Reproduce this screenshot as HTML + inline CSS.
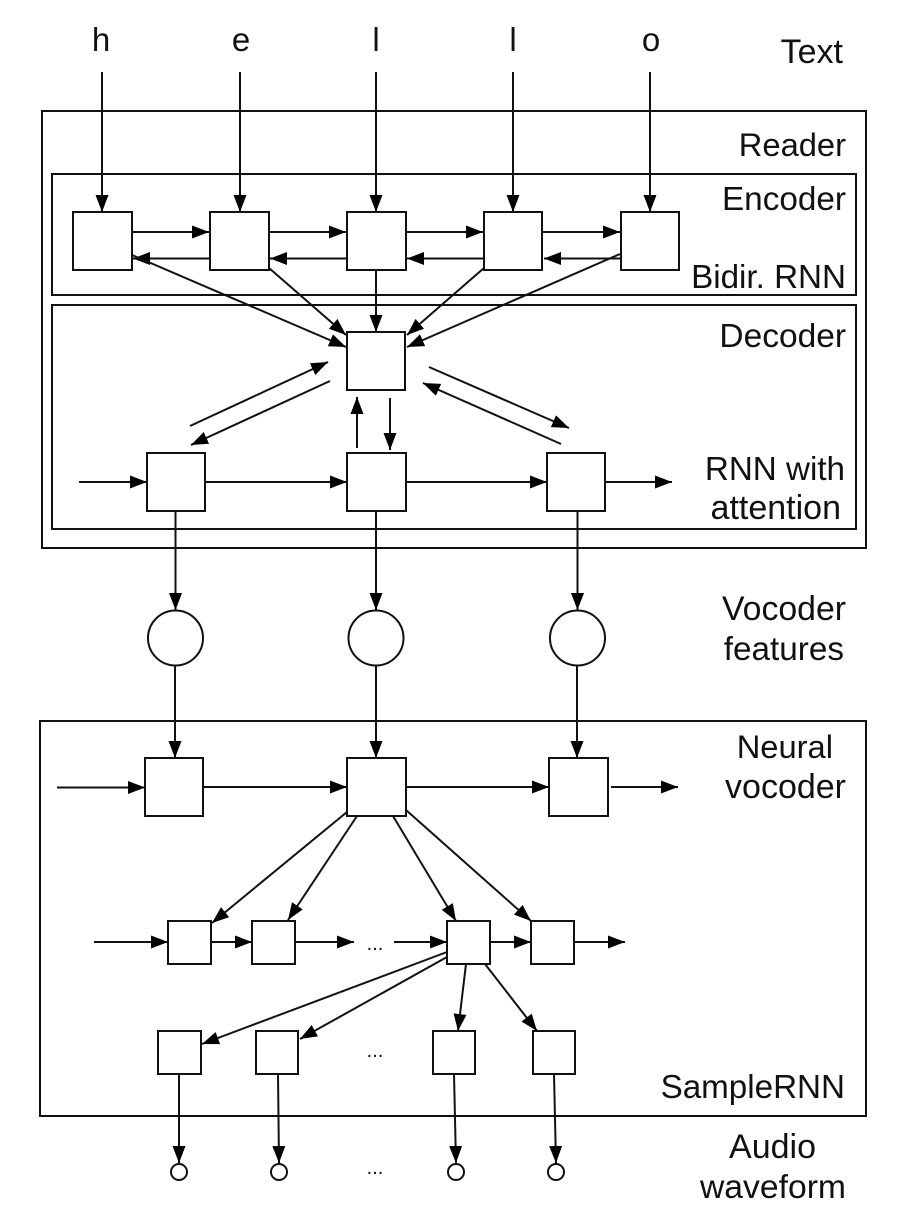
<!DOCTYPE html>
<html><head><meta charset="utf-8">
<style>html,body{margin:0;padding:0;background:#fff}svg{display:block}text{font-family:"Liberation Sans",sans-serif;font-size:33px;fill:#111}</style>
</head><body>
<svg width="904" height="1224" viewBox="0 0 904 1224" xmlns="http://www.w3.org/2000/svg">
<defs><marker id="a" markerUnits="userSpaceOnUse" markerWidth="18" markerHeight="14" refX="17" refY="6.5" orient="auto"><path d="M0,0 L17,6.5 L0,13 Z" fill="#000"/></marker></defs>
<g fill="none" stroke="#111" stroke-width="2">
<rect x="42" y="111" width="824" height="437"/>
<rect x="52" y="174" width="804" height="121"/>
<rect x="52" y="305" width="804" height="224"/>
<rect x="40" y="721" width="826" height="395"/>
<rect x="73" y="212" width="59" height="58"/><rect x="210" y="212" width="59" height="58"/><rect x="347" y="212" width="59" height="58"/><rect x="484" y="212" width="58" height="58"/><rect x="621" y="212" width="58" height="58"/>
<rect x="347" y="332" width="58" height="58"/>
<rect x="147" y="453" width="58" height="58"/><rect x="347" y="453" width="59" height="58"/><rect x="547" y="453" width="58" height="58"/>
<circle cx="175.500" cy="638" r="27.500"/><circle cx="376" cy="638" r="27.500"/><circle cx="577.500" cy="638" r="27.500"/>
<rect x="145" y="758" width="58" height="58"/><rect x="347" y="758" width="59" height="58"/><rect x="549" y="758" width="59" height="58"/>
<rect x="168" y="921" width="43" height="43"/><rect x="252" y="921" width="43" height="43"/><rect x="447" y="921" width="43" height="43"/><rect x="531" y="921" width="43" height="43"/>
<rect x="158" y="1031" width="43" height="43"/><rect x="256" y="1031" width="42" height="43"/><rect x="433" y="1031" width="42" height="43"/><rect x="533" y="1031" width="42" height="43"/>
<circle cx="179" cy="1172" r="8"/><circle cx="279" cy="1172" r="8"/><circle cx="456" cy="1172" r="8"/><circle cx="556" cy="1172" r="8"/>
</g>
<g stroke="#111" stroke-width="2" fill="none">
<path d="M102 72V212" marker-end="url(#a)"/><path d="M240 72V212" marker-end="url(#a)"/><path d="M376 72V212" marker-end="url(#a)"/><path d="M513 72V212" marker-end="url(#a)"/><path d="M650 72V212" marker-end="url(#a)"/>
<path d="M132 232H209" marker-end="url(#a)"/><path d="M269 232H346" marker-end="url(#a)"/><path d="M406 232H483" marker-end="url(#a)"/><path d="M542 232H620" marker-end="url(#a)"/>
<path d="M210 258.500H133" marker-end="url(#a)"/><path d="M347 258.500H270" marker-end="url(#a)"/><path d="M484 258.500H407" marker-end="url(#a)"/><path d="M621 258.500H544" marker-end="url(#a)"/>
<path d="M132 255L346 347" marker-end="url(#a)"/><path d="M269 268L346 335" marker-end="url(#a)"/><path d="M376 270V332" marker-end="url(#a)"/><path d="M484 268L407 335" marker-end="url(#a)"/><path d="M620 254L407 347" marker-end="url(#a)"/>
<path d="M190 426L328 362" marker-end="url(#a)"/><path d="M330 381L191 445" marker-end="url(#a)"/>
<path d="M429 367L569 428" marker-end="url(#a)"/><path d="M561 444L423 383" marker-end="url(#a)"/>
<path d="M357 448V397" marker-end="url(#a)"/><path d="M390 398V450" marker-end="url(#a)"/>
<path d="M79 482H147" marker-end="url(#a)"/><path d="M205 482H347" marker-end="url(#a)"/><path d="M406 482H547" marker-end="url(#a)"/><path d="M605 482H672" marker-end="url(#a)"/>
<path d="M175.500 511V610" marker-end="url(#a)"/><path d="M376 511V610" marker-end="url(#a)"/><path d="M577.500 511V610" marker-end="url(#a)"/>
<path d="M175 666V758" marker-end="url(#a)"/><path d="M376 666V758" marker-end="url(#a)"/><path d="M577 666V758" marker-end="url(#a)"/>
<path d="M57 787.500H145" marker-end="url(#a)"/><path d="M203 787H347" marker-end="url(#a)"/><path d="M406 787H549" marker-end="url(#a)"/><path d="M611 787H678" marker-end="url(#a)"/>
<path d="M347 812L212 923" marker-end="url(#a)"/><path d="M357 816L288 920" marker-end="url(#a)"/><path d="M393 816L456 921" marker-end="url(#a)"/><path d="M406 810L531 921" marker-end="url(#a)"/>
<path d="M94 942H168" marker-end="url(#a)"/><path d="M211 942H252" marker-end="url(#a)"/><path d="M295 942H354" marker-end="url(#a)"/><path d="M394 942H447" marker-end="url(#a)"/><path d="M490 942H531" marker-end="url(#a)"/><path d="M574 942H625" marker-end="url(#a)"/>
<path d="M447 952L202 1044" marker-end="url(#a)"/><path d="M447 957L300 1039" marker-end="url(#a)"/><path d="M466 964L458 1031" marker-end="url(#a)"/><path d="M485 964L537 1031" marker-end="url(#a)"/>
<path d="M179 1074V1163" marker-end="url(#a)"/><path d="M278 1074L279 1163" marker-end="url(#a)"/><path d="M454 1074L456 1163" marker-end="url(#a)"/><path d="M554 1074L556 1163" marker-end="url(#a)"/>
</g>
<g text-anchor="middle">
<text x="101" y="51">h</text><text x="241" y="51">e</text><text x="376" y="51">l</text><text x="513" y="51">l</text><text x="651" y="51">o</text>
<text x="375" y="1057" style="font-size:20px">...</text><text x="375" y="950" style="font-size:20px">...</text><text x="375" y="1174" style="font-size:20px">...</text>
</g>
<g text-anchor="end">
<text x="843" y="63" style="font-size:34px">Text</text>
<text x="846" y="156" style="font-size:32.7px">Reader</text>
<text x="846" y="210" style="font-size:33.3px">Encoder</text>
<text x="846" y="288" style="font-size:33.2px">Bidir. RNN</text>
<text x="846" y="347" style="font-size:33.5px">Decoder</text>
<text x="845" y="480" style="font-size:33.2px">RNN with</text>
<text x="841" y="519" style="font-size:34px">attention</text>
<text x="846" y="620" style="font-size:33.8px">Vocoder</text>
<text x="844" y="660" style="font-size:33.3px">features</text>
<text x="833" y="758" style="font-size:32.7px">Neural</text>
<text x="846" y="798" style="font-size:34px">vocoder</text>
<text x="845" y="1098" style="font-size:33.2px">SampleRNN</text>
<text x="816" y="1158" style="font-size:34px">Audio</text>
<text x="846" y="1198" style="font-size:33.7px">waveform</text>
</g>
</svg>
</body></html>
